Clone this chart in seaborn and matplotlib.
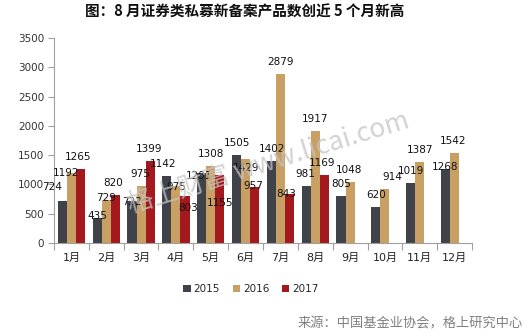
import numpy as np
import pandas as pd
import matplotlib
matplotlib.use("Agg")
import matplotlib.pyplot as plt
import seaborn as sns

# Monthly counts of newly registered securities private fund products
months = ["1月", "2月", "3月", "4月", "5月", "6月", "7月", "8月", "9月", "10月", "11月", "12月"]
years = ["2015", "2016", "2017"]
y2015 = [724, 435, 722, 1142, 1201, 1505, 1402, 981, 805, 620, 1019, 1268]
y2016 = [1192, 729, 975, 975, 1308, 1429, 2879, 1917, 1048, 914, 1387, 1542]
y2017 = [1265, 820, 1399, 803, 1155, 957, 843, 1169, np.nan, np.nan, np.nan, np.nan]
yticks = [0, 500, 1000, 1500, 2000, 2500, 3000, 3500]

title = "图：8 月证券类私募新备案产品数创近 5 个月新高"
source = "来源：中国基金业协会，格上研究中心"
watermark = "格上财富 www.licai.com"

colors = ["#404249", "#c9a063", "#a3191d"]

# hand-placed label nudges (pixels) where neighbouring labels would collide
label_nudge = {
    "2015": {0: (-10, 2), 1: (0, -10), 2: (0, -13), 3: (-4, 0), 4: (-3, -15),
             6: (1, 0), 7: (-1, 0), 11: (0, -10)},
    "2016": {0: (-5, -12), 1: (0, -10), 2: (-1, 0), 3: (0, -13), 5: (0, -21),
             8: (-1, 0), 9: (7, 0), 11: (-2, 0)},
    "2017": {0: (-2, 0), 1: (-2, 0), 2: (-1, 0), 3: (3, -24), 4: (0, -40),
             5: (-1, -11), 6: (-3, -12), 7: (-2, 0)},
}

df = pd.DataFrame({
    "month": months * 3,
    "year": [years[0]] * 12 + [years[1]] * 12 + [years[2]] * 12,
    "value": y2015 + y2016 + y2017,
})

sns.set_theme(style="white")
plt.rcParams["font.family"] = ["DejaVu Sans", "Noto Sans CJK SC"]

fig = plt.figure(figsize=(5.29, 3.36), dpi=100)
ax = fig.add_axes([54 / 529, 1 - 243 / 336, (472 - 54) / 529, (243 - 38) / 336])

sns.barplot(data=df, x="month", y="value", hue="year", order=months,
            hue_order=years, palette=colors, width=0.78, gap=0,
            saturation=1, linewidth=0, edgecolor="none", ax=ax, legend=True)

# value labels above each bar
for year, cont in zip(years, ax.containers):
    nudges = label_nudge.get(year, {})
    for patch, val in zip(cont.patches, cont.datavalues):
        if np.isnan(val):
            continue
        xc = patch.get_x() + patch.get_width() / 2
        dx, dy = nudges.get(int(round(xc)), (0, 0))
        ax.annotate(f"{int(val)}", xy=(xc, val), xytext=(dx, 12 + dy),
                    textcoords="offset pixels", ha="center", va="center",
                    fontsize=7.5, color="#111111", zorder=5)

ax.set_ylim(0, 3500)
ax.set_xlim(-0.5, 11.5)
ax.set_yticks(yticks)
ax.set_yticklabels([str(v) for v in yticks], fontsize=7.5, color="#333333")
ax.set_xlabel("")
ax.set_ylabel("")

# category boundaries as tick marks, month names centred between them
ax.set_xticks(np.arange(-0.5, 12, 1.0))
ax.set_xticklabels([])
ax.set_xticks(np.arange(12), minor=True)
ax.set_xticklabels(months, minor=True, fontsize=8, color="#222222")
ax.tick_params(axis="x", which="major", length=5, width=0.8, color="#a0a0a0",
               direction="out", bottom=True)
ax.tick_params(axis="x", which="minor", length=0, pad=7)
ax.tick_params(axis="y", length=4, width=0.8, color="#a0a0a0", direction="out",
               left=True, pad=3)

for side in ["top", "right"]:
    ax.spines[side].set_visible(False)
for side in ["left", "bottom"]:
    ax.spines[side].set_color("#a0a0a0")
    ax.spines[side].set_linewidth(0.8)

handles, labels = ax.get_legend_handles_labels()
ax.legend(handles, labels, loc="center", bbox_to_anchor=(251 / 529, 1 - 289 / 336),
          bbox_transform=fig.transFigure, ncol=3, frameon=False, fontsize=7.5,
          handlelength=0.7, handleheight=0.7, handletextpad=0.3, columnspacing=1.2)

fig.text(245 / 529, 1 - 12 / 336, title, ha="center", va="center",
         fontsize=10.5, fontweight="bold", family=["Noto Sans CJK SC"], color="#111111")
fig.text(523 / 529, 1 - 324 / 336, source, ha="right", va="center",
         fontsize=9.5, family=["Noto Sans CJK SC"], color="#808080")

fig.text(268 / 529, 1 - 163 / 336, watermark, ha="center", va="center",
         rotation=17, fontsize=19, family=["Noto Sans CJK SC", "DejaVu Sans"],
         color="#c4c4c4", alpha=0.75, zorder=10)

fig.savefig("out.png", dpi=100, facecolor="white")
